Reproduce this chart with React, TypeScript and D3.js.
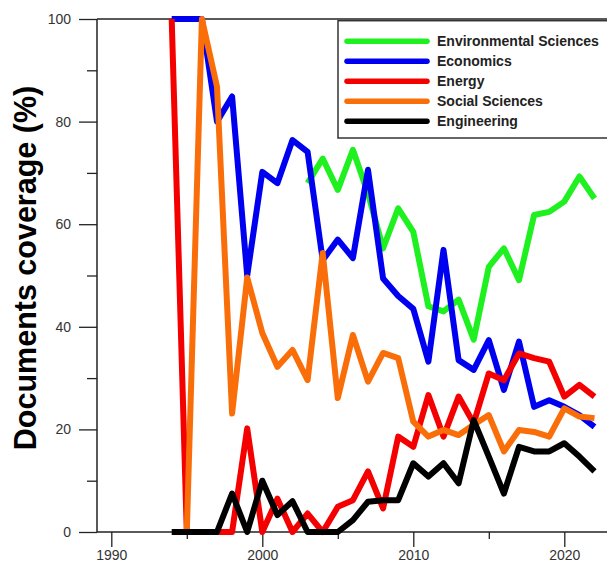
import { useEffect, useRef } from 'react';
import * as d3 from 'd3';

const W = 607;
const H = 572;

// years 1994..2022
const years = [
    1994, 1995, 1996, 1997, 1998, 1999, 2000, 2001, 2002, 2003, 2004, 2005, 2006, 2007, 2008,
    2009, 2010, 2011, 2012, 2013, 2014, 2015, 2016, 2017, 2018, 2019, 2020, 2021, 2022
];

const environmental = [
    null, null, null, null, null, null, null, null, null, 68, 72.8, 66.7, 74.5, 66, 55.3,
    63.1, 58.5, 44, 43, 45.3, 37.5, 51.7, 55.3, 49.1, 61.8, 62.4, 64.4, 69.3, 65
];
const economics = [
    100, 100, 100, 80, 84.9, 50, 70.2, 68, 76.4, 74.1, 53, 57, 53.4, 70.6, 49.4,
    46, 43.5, 33.2, 55, 33.5, 31.6, 37.4, 27.7, 37.1, 24.4, 25.7, 24.4, 22.8, 20.5
];
const energy = [
    100, 0, 0, 0, 0, 20.2, 0, 6.5, 0, 3.6, 0, 4.9, 6.2, 11.8, 4.6,
    18.6, 16.6, 26.7, 18.6, 26.4, 21.2, 30.9, 29.6, 34.8, 33.9, 33.2, 26.4, 28.7, 26.4
];
const social = [
    null, 0, 100, 86.8, 23.1, 49.6, 38.8, 32.2, 35.5, 29.6, 54.4, 26.1, 38.4, 29.3, 34.9,
    33.9, 21.5, 18.6, 19.9, 18.9, 20.9, 22.8, 15.7, 19.9, 19.5, 18.6, 24.1, 22.5, 22.2
];
const engineering = [
    0, 0, 0, 0, 7.5, 0, 10, 3.3, 6, 0, 0, 0, 2.3, 5.9, 6.2,
    6.2, 13.4, 10.8, 13.4, 9.5, 21.8, 14.7, 7.5, 16.6, 15.7, 15.7, 17.3, 14.7, 11.8
];

const seriesNames = ['Environmental Sciences', 'Economics', 'Energy', 'Social Sciences', 'Engineering'];
const seriesColors = ['#1ff01f', '#0000f0', '#f50000', '#fa6e0a', '#000000'];
const seriesValues = [environmental, economics, energy, social, engineering];

const yMajor = [0, 20, 40, 60, 80, 100];
const yMinor = [10, 30, 50, 70, 90];
const xMajor = [1990, 2000, 2010, 2020];
const xMinor = [1995, 2005, 2015];

const font = '"Liberation Sans", Arial, sans-serif';

export default function App() {
    const ref = useRef<SVGSVGElement>(null);

    useEffect(() => {
        const svg = d3.select(ref.current);
        svg.selectAll('*').remove();

        const x = d3.scaleLinear().domain([1990, 2020]).range([111.3, 564.3]);
        const y = d3.scaleLinear().domain([0, 100]).range([532, 19]);
        const axisX = 97;

        // y axis
        const yAxisG = svg.append('g').attr('transform', `translate(${axisX},0)`);
        yAxisG
            .call(d3.axisLeft(y).tickValues(yMajor).tickSize(18).tickPadding(8).tickFormat(d3.format('d')))
            .call((g) => g.select('.domain').remove());
        yAxisG.selectAll('.tick line').attr('stroke', '#222').attr('stroke-width', 1.3);
        yAxisG.selectAll('.tick text').attr('fill', '#333').style('font', `14px ${font}`);
        svg.append('g')
            .attr('transform', `translate(${axisX},0)`)
            .call(d3.axisLeft(y).tickValues(yMinor).tickSize(10).tickFormat(() => ''))
            .call((g) => g.select('.domain').remove())
            .selectAll('.tick line')
            .attr('stroke', '#222')
            .attr('stroke-width', 1.3);

        // x axis
        const xAxisG = svg.append('g').attr('transform', 'translate(0,532)');
        xAxisG
            .call(d3.axisBottom(x).tickValues(xMajor).tickSize(15).tickPadding(3.5).tickFormat(d3.format('d')))
            .call((g) => g.select('.domain').remove());
        xAxisG.selectAll('.tick line').attr('stroke', '#222').attr('stroke-width', 1.3);
        xAxisG.selectAll('.tick text').attr('fill', '#333').style('font', `14px ${font}`);
        svg.append('g')
            .attr('transform', 'translate(0,532)')
            .call(d3.axisBottom(x).tickValues(xMinor).tickSize(7).tickFormat(() => ''))
            .call((g) => g.select('.domain').remove())
            .selectAll('.tick line')
            .attr('stroke', '#222')
            .attr('stroke-width', 1.3);

        // frame lines
        svg.append('line').attr('x1', axisX).attr('x2', W).attr('y1', y(0)).attr('y2', y(0)).attr('stroke', '#222').attr('stroke-width', 1.5);
        svg.append('line').attr('x1', axisX).attr('x2', W).attr('y1', y(100)).attr('y2', y(100)).attr('stroke', '#222').attr('stroke-width', 1.5);
        svg.append('line').attr('x1', axisX).attr('x2', axisX).attr('y1', y(0)).attr('y2', y(100)).attr('stroke', '#222').attr('stroke-width', 1.5);

        // series
        const line = d3
            .line<number | null>()
            .defined((d) => d !== null)
            .x((_d, i) => x(years[i]))
            .y((d) => y(d as number));

        seriesValues.forEach((vals, i) => {
            svg.append('path')
                .datum(vals)
                .attr('fill', 'none')
                .attr('stroke', seriesColors[i])
                .attr('stroke-width', 6)
                .attr('stroke-linejoin', 'round')
                .attr('d', line);
        });

        // legend
        const lg = svg.append('g');
        lg.append('rect')
            .attr('x', 338)
            .attr('y', 20.7)
            .attr('width', 300)
            .attr('height', 117.3)
            .attr('fill', '#fff')
            .attr('stroke', '#333')
            .attr('stroke-width', 1.5);
        seriesNames.forEach((name, i) => {
            const cy = 41.3 + i * 20;
            lg.append('line')
                .attr('x1', 347)
                .attr('x2', 427)
                .attr('y1', cy)
                .attr('y2', cy)
                .attr('stroke', seriesColors[i])
                .attr('stroke-width', 5.5)
                .attr('stroke-linecap', 'round');
            lg.append('text')
                .attr('x', 437)
                .attr('y', cy + 5)
                .attr('fill', '#222')
                .style('font', `bold 14px ${font}`)
                .text(name);
        });

        // y label
        svg.append('text')
            .attr('transform', 'translate(35.5,268) rotate(-90)')
            .attr('text-anchor', 'middle')
            .attr('fill', '#000')
            .style('font', `bold 30.5px ${font}`)
            .text('Documents coverage (%)');
    }, []);

    return (
        <svg
            ref={ref}
            width={W}
            height={H}
            style={{ position: 'absolute', left: 0, top: 0, background: '#fff' }}
        />
    );
}
